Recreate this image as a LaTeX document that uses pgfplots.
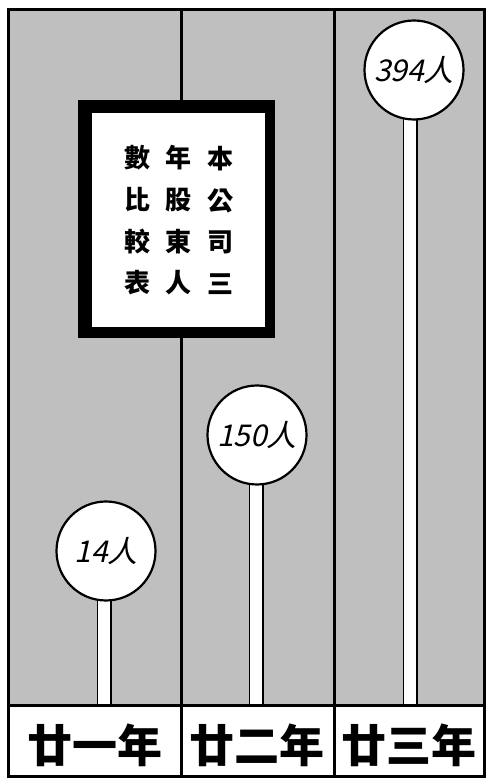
\documentclass[border=0pt]{standalone}
\usepackage{fontspec}
\setmainfont{Noto Sans CJK TC}
\newfontfamily\hand{Noto Sans CJK TC}[FakeSlant=0.22]
\usepackage{pgfplots}
\pgfplotsset{compat=1.18}
\usepackage{pgfplotstable}

% one pin per year: circle centre x, stem x, circle centre height above the base line, shareholders
\pgfplotstableread{
cx  sx  c    v    lab
106 104 155  14   14人
257 256 271  150  150人
414 410 636  394  394人
}\pins

\pgfplotstableread{
x   y    lab
95  -39  廿一年
257 -39  廿二年
409 -39  廿三年
}\years

\begin{document}
\begin{tikzpicture}
\begin{axis}[
  scale only axis, width=487pt, height=779pt,
  xmin=0, xmax=487, ymin=-73, ymax=706,
  hide axis, clip=false,
]
% paper and halftone ground
\fill[white] (axis cs:0,-73) rectangle (axis cs:487,706);
\fill[black!25] (axis cs:8,0) rectangle (axis cs:484,696);

% column rules
\draw[line width=3pt] (axis cs:181,-71) -- (axis cs:181,696);
\draw[line width=3pt] (axis cs:334,-71) -- (axis cs:334,696);

% title box
\fill[black] (axis cs:78,368) rectangle (axis cs:275,606);
\fill[white] (axis cs:92,379) rectangle (axis cs:265,593);
\node[align=center, font=\bfseries\fontsize{26}{41.7}\selectfont] at (axis cs:137,485.5) {數\\比\\較\\表};
\node[align=center, font=\bfseries\fontsize{26}{41.7}\selectfont] at (axis cs:178,485.5) {年\\股\\東\\人};
\node[align=center, font=\bfseries\fontsize{26}{41.7}\selectfont] at (axis cs:220,485.5) {本\\公\\司\\三};

% circles
\addplot[only marks, mark=*, mark size=49.5pt,
  mark options={fill=white, draw=black, line width=2.2pt}]
  table[x=cx, y=c] {\pins};
% stems: black edge, then white body that opens the circle outline
\addplot[ycomb, draw=black, line width=15pt] table[x=sx, y expr=\thisrow{c}-48] {\pins};
\addplot[ycomb, draw=white, line width=11.5pt] table[x=sx, y expr=\thisrow{c}-40] {\pins};

% base line and outer frame
\draw[line width=3pt] (axis cs:8,0) -- (axis cs:484,0);
\draw[line width=3pt] (axis cs:8,-71) rectangle (axis cs:484,696);

% value labels
\addplot[draw=none, mark=none, nodes near coords, point meta=explicit symbolic,
  nodes near coords style={anchor=center, font=\hand\fontsize{30}{30}\selectfont}]
  table[x=cx, y=c, meta=lab] {\pins};

% year labels
\addplot[draw=none, mark=none, nodes near coords, point meta=explicit symbolic,
  nodes near coords style={anchor=center, font=\bfseries\fontsize{45}{45}\selectfont}]
  table[x=x, y=y, meta=lab] {\years};
\end{axis}
\end{tikzpicture}
\end{document}
